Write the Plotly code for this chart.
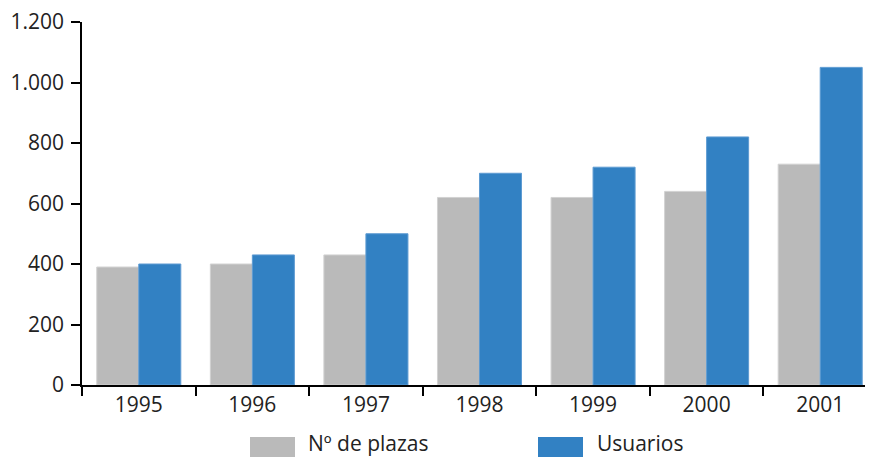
import plotly.graph_objects as go

years = ["1995", "1996", "1997", "1998", "1999", "2000", "2001"]
plazas = [390, 400, 430, 620, 620, 640, 730]
usuarios = [400, 430, 500, 700, 720, 820, 1050]
series_names = ["Nº de plazas", "Usuarios"]
y_ticks = [0, 200, 400, 600, 800, 1000, 1200]
y_ticktext = ["0", "200", "400", "600", "800", "1.000", "1.200"]

GRAY = "#BABABA"
BLUE = "#3281C3"
FONT = "Open Sans"
TXT = "#222222"
FS = 21

# page body has an 8px margin: figure coordinates are offset by 8px
OFF = 8
W, H = 873 - OFF, 459 - OFF
L, T = 82 - OFF, 22 - OFF
PLOT_BOTTOM = 385 - OFF
B = H - PLOT_BOTTOM
PW = W - L
PH = PLOT_BOTTOM - T

fig = go.Figure()
fig.add_trace(go.Bar(x=years, y=plazas, name=series_names[0],
                     marker=dict(color=GRAY, line=dict(color="#D2D2D2", width=1))))
fig.add_trace(go.Bar(x=years, y=usuarios, name=series_names[1],
                     marker=dict(color=BLUE, line=dict(color="#5E9BD2", width=1))))

fig.update_layout(
    width=W, height=H,
    margin=dict(l=L, r=0, t=T, b=B, autoexpand=False),
    paper_bgcolor="white", plot_bgcolor="white",
    barmode="group", bargap=0.26, bargroupgap=0,
    showlegend=False,
    font=dict(family=FONT, size=FS, color=TXT),
)
fig.update_xaxes(
    type="category", range=[-0.5, 6.465],
    showline=True, linecolor="black", linewidth=1.5,
    ticks="outside", tickson="boundaries", ticklen=9, tickcolor="black", tickwidth=1.5,
    showgrid=False, tickfont=dict(family=FONT, size=FS, color=TXT),
)
fig.update_yaxes(
    range=[0, 1200], tickvals=y_ticks, ticktext=y_ticktext,
    showline=True, linecolor="black", linewidth=1.5,
    ticks="outside", ticklen=9, tickcolor="black", tickwidth=1.5,
    ticklabeloverflow="allow", ticklabelstandoff=3,
    showgrid=False, zeroline=False, tickfont=dict(family=FONT, size=FS, color=TXT),
)

# Legend drawn as swatches + labels below the plot (absolute page pixels -> paper)
def px(xabs):
    return (xabs - OFF - L) / PW

def py(yabs):
    return (PLOT_BOTTOM - (yabs - OFF)) / PH

legend_items = [(series_names[0], GRAY, 250, 308), (series_names[1], BLUE, 538, 597)]
for name, color, sx, tx in legend_items:
    fig.add_shape(type="rect", xref="paper", yref="paper",
                  x0=px(sx), x1=px(sx + 45), y0=py(457), y1=py(437),
                  fillcolor=color, line=dict(width=0))
    fig.add_annotation(text=name, xref="paper", yref="paper",
                       x=px(tx - 2), y=py(459), yshift=0,
                       xanchor="left", yanchor="bottom", showarrow=False,
                       font=dict(family=FONT, size=FS, color=TXT))

fig.write_html("out.html")
